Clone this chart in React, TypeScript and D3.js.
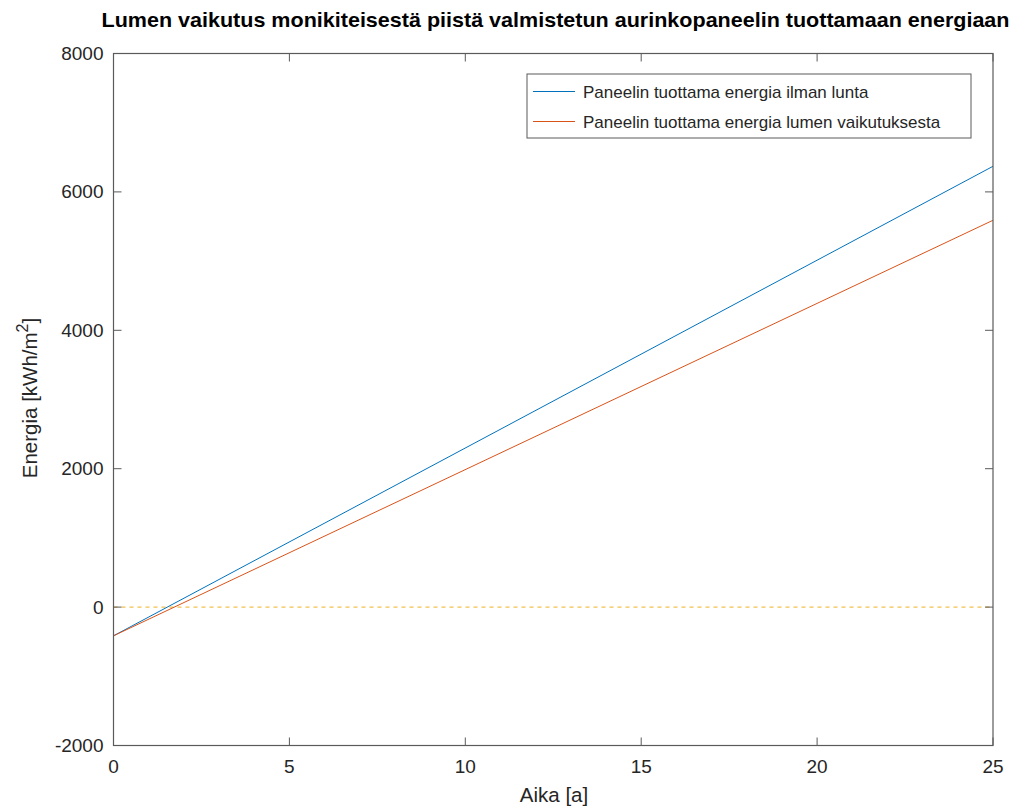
import * as d3 from "d3";

// years on x axis, energy in kWh/m^2 on y axis
const years = [0, 25];
const noSnow = [-415, 6370];
const withSnow = [-415, 5590];
const seriesNames = [
  "Paneelin tuottama energia ilman lunta",
  "Paneelin tuottama energia lumen vaikutuksesta",
];
const xTicks = [0, 5, 10, 15, 20, 25];
const yTicks = [-2000, 0, 2000, 4000, 6000, 8000];

const title = "Lumen vaikutus monikiteisestä piistä valmistetun aurinkopaneelin tuottamaan energiaan";

export default function App() {
  const width = 1014;
  const height = 809;
  const margin = { top: 53.5, right: 21, bottom: 63.5, left: 113.5 };
  const font = "'Liberation Sans', Arial, sans-serif";
  const axisColor = "#5a5a5a";
  const textColor = "#262626";

  const x = d3.scaleLinear().domain([0, 25]).range([margin.left, width - margin.right]);
  const y = d3.scaleLinear().domain([-2000, 8000]).range([height - margin.bottom, margin.top]);

  const line = d3
    .line<number>()
    .x((_, i) => x(years[i]))
    .y((d) => y(d));

  const x0 = x(0), x1 = x(25), y0 = y(-2000), y1 = y(8000);
  const tickLen = 8;

  // Legend box
  const lg = { x: 527, y: 74, w: 444, h: 64 };

  return (
    <svg width={width} height={height} style={{ display: "block", position: "absolute", left: 0, top: 0 }}>
      <rect width={width} height={height} fill="#fff" />
      <text
        x={555.5}
        y={26.5}
        textAnchor="middle"
        fontFamily={font}
        fontWeight="bold"
        fontSize={20.5}
        fill="#000"
        textLength={908}
        lengthAdjust="spacingAndGlyphs"
      >
        {title}
      </text>

      {/* zero reference */}
      <line x1={x0} x2={x1} y1={y(0)} y2={y(0)} stroke="#EDB120" strokeWidth={1} strokeDasharray="4,4" />

      {/* series */}
      <path d={line(noSnow) ?? ""} fill="none" stroke="#0072BD" strokeWidth={1} />
      <path d={line(withSnow) ?? ""} fill="none" stroke="#D95319" strokeWidth={1} />

      {/* axes box */}
      <rect x={x0} y={y1} width={x1 - x0} height={y0 - y1} fill="none" stroke={axisColor} strokeWidth={1.2} />
      {xTicks.map((t) => (
        <g key={"x" + t}>
          <line x1={x(t)} x2={x(t)} y1={y0} y2={y0 - tickLen} stroke={axisColor} />
          <line x1={x(t)} x2={x(t)} y1={y1} y2={y1 + tickLen} stroke={axisColor} />
          <text x={x(t)} y={y0 + 27} textAnchor="middle" fontFamily={font} fontSize={19} fill={textColor}>
            {t}
          </text>
        </g>
      ))}
      {yTicks.map((t) => (
        <g key={"y" + t}>
          <line x1={x0} x2={x0 + tickLen} y1={y(t)} y2={y(t)} stroke={axisColor} />
          <line x1={x1} x2={x1 - tickLen} y1={y(t)} y2={y(t)} stroke={axisColor} />
          <text x={x0 - 10} y={y(t) + 6.5} textAnchor="end" fontFamily={font} fontSize={19} fill={textColor}>
            {t}
          </text>
        </g>
      ))}

      <text x={554} y={801.5} textAnchor="middle" fontFamily={font} fontSize={20.5} fill={textColor}>
        Aika [a]
      </text>
      <text
        transform={`translate(37,398) rotate(-90)`}
        textAnchor="middle"
        fontFamily={font}
        fontSize={20.5}
        fill={textColor}
      >
        Energia [kWh/m<tspan dy={-9} fontSize={16}>2</tspan>
        <tspan dy={9}>]</tspan>
      </text>

      {/* legend */}
      <rect x={lg.x} y={lg.y} width={lg.w} height={lg.h} fill="#fff" stroke={axisColor} strokeWidth={1} />
      {seriesNames.map((name, i) => {
        const cy = lg.y + 17.5 + i * 30;
        return (
          <g key={name}>
            <line x1={lg.x + 6} x2={lg.x + 48} y1={cy} y2={cy} stroke={i === 0 ? "#0072BD" : "#D95319"} />
            <text x={lg.x + 56} y={cy + 6} fontFamily={font} fontSize={17} fill={textColor}>
              {name}
            </text>
          </g>
        );
      })}
    </svg>
  );
}
